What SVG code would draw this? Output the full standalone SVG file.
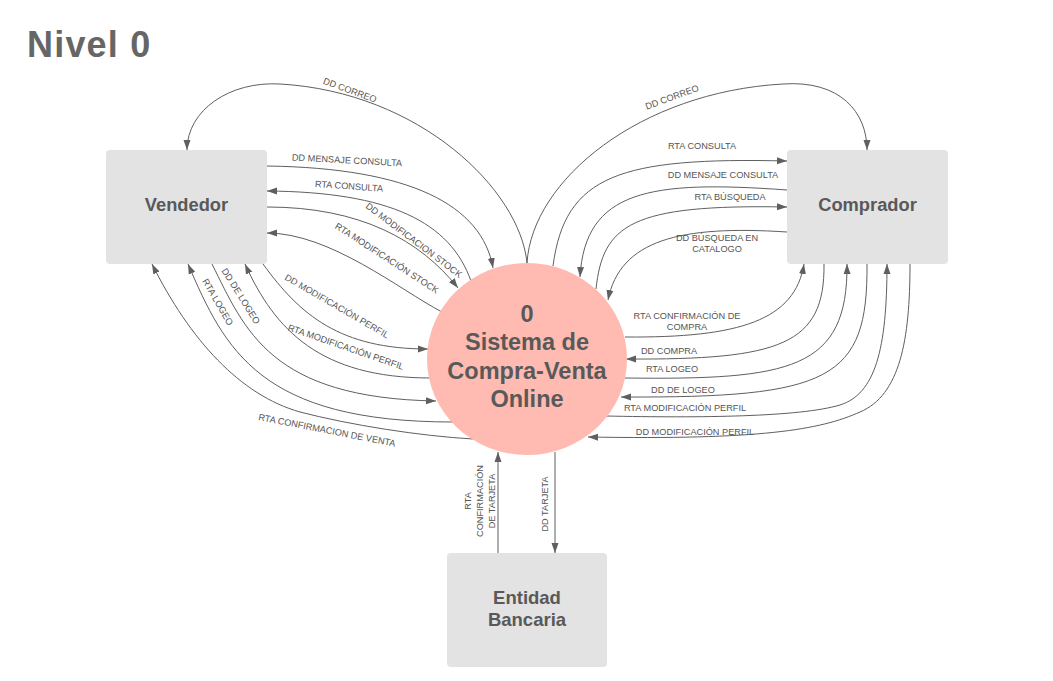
<svg xmlns="http://www.w3.org/2000/svg" width="1053" height="681" viewBox="0 0 1053 681">
<style>
.box{fill:#e3e3e3;}
.proc{fill:#ffbbb1;}
.nt{font-family:"Liberation Sans",Arial,sans-serif;font-weight:bold;fill:#595959;text-anchor:middle;}
.lb{font-family:"Liberation Sans",Arial,sans-serif;font-size:9.2px;fill:#555;text-anchor:middle;}
.c{fill:none;stroke:#5f5f5f;stroke-width:1;}
.a{marker-end:url(#ah);}
</style>
<defs>
<marker id="ah" markerUnits="userSpaceOnUse" markerWidth="10" markerHeight="8" viewBox="0 0 10 8" refX="10" refY="4" orient="auto">
<path d="M0,0.5 L10,4 L0,7.5 z" fill="#5f5f5f"/>
</marker>
</defs>
<rect width="1053" height="681" fill="#ffffff"/>
<text x="27" y="57" font-family="Liberation Sans,Arial,sans-serif" font-weight="bold" font-size="36" letter-spacing="1.2" fill="#666666">Nivel 0</text>

<g id="connectors">
<!-- left -->
<path class="c a" d="M527,263 C520,190 420,92 280,84 C230,81 187,110 187,150"/>
<path class="c a" d="M267,166 C410,168 482,205 493,268"/>
<path class="c a" d="M471,281 C450,222 390,192 267,191"/>
<path class="c a" d="M267,207 C360,207 420,240 458,288"/>
<path class="c a" d="M442,312 C400,290 330,233 267,233"/>
<path class="c a" d="M263,264 C300,315 340,349 428,349"/>
<path class="c a" d="M431,378 C320,378 275,330 245,264"/>
<path class="c a" d="M212,264 C245,330 270,398 436,401"/>
<path class="c a" d="M453,422 C260,422 225,350 188,264"/>
<path class="c a" d="M473,439 C420,436 350,425 300,412 C240,395 190,340 152,264"/>
<!-- right -->
<path class="c a" d="M527,263 C532,180 640,92 783,84 C840,80 867,112 867,150"/>
<path class="c a" d="M553,266 C565,175 620,157 787,161"/>
<path class="c a" d="M787,190 C650,180 585,190 580,277"/>
<path class="c a" d="M596,289 C603,225 630,204 787,207"/>
<path class="c a" d="M787,232 C680,225 620,240 608,300"/>
<path class="c a" d="M625,337 C740,338 795,320 804,264"/>
<path class="c a" d="M824,264 C825,345 780,360 626,359"/>
<path class="c a" d="M625,378 C790,380 848,370 847,264"/>
<path class="c a" d="M867,264 C868,380 830,398 621,397"/>
<path class="c a" d="M606,416 C700,418 800,417 840,405 C875,394 887,350 887,264"/>
<path class="c a" d="M910,264 C910,340 900,395 860,412 C820,430 760,440 588,437"/>
<!-- bottom -->
<path class="c a" d="M498,553 L498,452"/>
<path class="c a" d="M555,452 L555,553"/>
</g>

<g id="labels">
<text class="lb" transform="translate(350,90) rotate(20)" y="3.3">DD CORREO</text>
<text class="lb" transform="translate(347,160) rotate(3)" y="3.3">DD MENSAJE CONSULTA</text>
<text class="lb" transform="translate(349,186) rotate(4)" y="3.3">RTA CONSULTA</text>
<text class="lb" transform="translate(414,240) rotate(37)" y="3.3">DD MODIFICACION STOCK</text>
<text class="lb" transform="translate(387,258) rotate(33)" y="3.3">RTA MODIFICACIÓN STOCK</text>
<text class="lb" transform="translate(337,306) rotate(30)" y="3.3">DD MODIFICACIÓN PERFIL</text>
<text class="lb" transform="translate(346,347) rotate(19)" y="3.3">RTA MODIFICACIÓN PERFIL</text>
<text class="lb" transform="translate(327,430) rotate(11)" y="3.3">RTA CONFIRMACION DE VENTA</text>
<text class="lb" transform="translate(218,302) rotate(60)" y="3.3">RTA LOGEO</text>
<text class="lb" transform="translate(241,296) rotate(58)" y="3.3">DD DE LOGEO</text>

<text class="lb" transform="translate(672,97) rotate(-20)" y="3.3">DD CORREO</text>
<text class="lb" x="702" y="149.3">RTA CONSULTA</text>
<text class="lb" x="723" y="178.3">DD MENSAJE CONSULTA</text>
<text class="lb" x="730" y="200.3">RTA BÚSQUEDA</text>
<text class="lb" x="717" y="241.3">DD BÚSQUEDA EN</text>
<text class="lb" x="717" y="252.3">CATALOGO</text>
<text class="lb" x="687" y="319.3">RTA CONFIRMACIÓN DE</text>
<text class="lb" x="687" y="330.3">COMPRA</text>
<text class="lb" x="669" y="354.3">DD COMPRA</text>
<text class="lb" x="672" y="372.3">RTA LOGEO</text>
<text class="lb" x="683" y="393.3">DD DE LOGEO</text>
<text class="lb" x="685" y="411.3">RTA MODIFICACIÓN PERFIL</text>
<text class="lb" x="695" y="435.3">DD MODIFICACIÓN PERFIL</text>

<text class="lb" transform="translate(480,501) rotate(-90)"><tspan x="0" y="-8.7">RTA</tspan><tspan x="0" y="3.3">CONFIRMACIÓN</tspan><tspan x="0" y="15.3">DE TARJETA</tspan></text>
<text class="lb" transform="translate(545,504) rotate(-90)" y="3.3">DD TARJETA</text>
</g>

<g id="vendedor">
<rect class="box" x="106" y="150" width="161" height="114" rx="4"/>
<text class="nt" x="186.5" y="210.5" font-size="18.3">Vendedor</text>
</g>
<g id="comprador">
<rect class="box" x="787" y="150" width="161" height="114" rx="4"/>
<text class="nt" x="867.5" y="210.5" font-size="18.3">Comprador</text>
</g>
<g id="entidad-bancaria">
<rect class="box" x="447" y="553" width="160" height="114" rx="4"/>
<text class="nt" x="527" y="603.5" font-size="18.5">Entidad</text>
<text class="nt" x="527" y="626" font-size="18.5">Bancaria</text>
</g>
<g id="sistema">
<ellipse class="proc" cx="527" cy="359" rx="100" ry="96"/>
<text class="nt" x="527" y="321.5" font-size="23.5">0</text>
<text class="nt" x="527" y="350" font-size="23.5">Sistema de</text>
<text class="nt" x="527" y="378.5" font-size="23.5">Compra-Venta</text>
<text class="nt" x="527" y="407" font-size="23.5">Online</text>
</g>
</svg>
